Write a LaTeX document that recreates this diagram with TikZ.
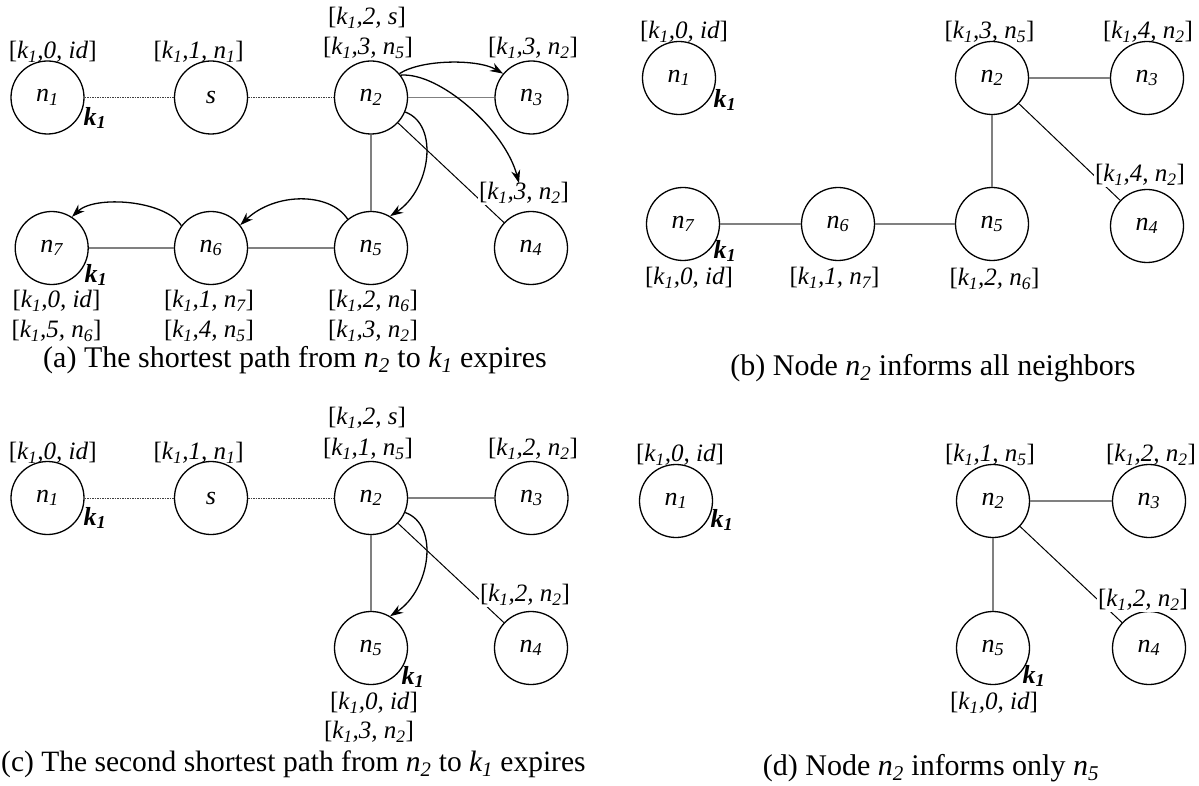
\documentclass[tikz,border=0pt]{standalone}
\usepackage{fontspec}
\setmainfont{Liberation Serif}
\usetikzlibrary{arrows.meta}
\newcommand{\nodefont}{\fontsize{26}{30}\selectfont\itshape}
\newcommand{\labfont}{\fontsize{25}{29}\selectfont}
\newcommand{\capfont}{\fontsize{30}{35}\selectfont}
\newcommand{\kfont}{\fontsize{26}{30}\selectfont\bfseries\itshape}
\newcommand{\nsub}[1]{n\textsubscript{#1}}
\newcommand{\tri}[2]{[\textit{k\textsubscript{1},#1, #2}]}
\tikzset{
  vert/.style={circle, draw, line width=1.3pt, minimum size=73pt, inner sep=0pt, font=\nodefont},
  lab/.style={font=\labfont, inner sep=1pt},
  labw/.style={lab, fill=white},
  kl/.style={font=\kfont, inner sep=0pt},
  captext/.style={font=\capfont, inner sep=0pt},
  edge/.style={draw=black!50, line width=1.5pt},
  dotl/.style={draw=black!75, line width=1pt, dash pattern=on 1.5pt off 1pt},
  thinl/.style={draw=black, line width=1pt},
  arr/.style={draw=black, line width=1.3pt, -{Stealth[length=13pt,width=9pt]}}
}
\begin{document}
\begin{tikzpicture}[x=1pt,y=-1pt]
\useasboundingbox (0,0) rectangle (1199,786);
% ---------------- (a)
\node[vert] (a1) at (47.5,97.5) {\nsub{1}};
\node[vert] (as) at (211,97.5) {s};
\node[vert] (a2) at (371,97.5) {\nsub{2}};
\node[vert] (a3) at (531.5,97.5) {\nsub{3}};
\node[vert] (a7) at (51.7,248) {\nsub{7}};
\node[vert] (a6) at (211,248) {\nsub{6}};
\node[vert] (a5) at (371,248) {\nsub{5}};
\node[vert] (a4) at (531,248) {\nsub{4}};
\node[lab] (a1l) at (52.7,52) {\tri{0}{id}};
\node[lab] (asl) at (198.6,52) {\tri{1}{\nsub{1}}};
\node[lab] (a2la) at (367,18) {\tri{2}{s}};
\node[lab] (a2lb) at (368,48) {\tri{3}{\nsub{5}}};
\node[lab] (a3l) at (533,48) {\tri{3}{\nsub{2}}};
\node[lab] (a7la) at (56.5,301) {\tri{0}{id}};
\node[lab] (a7lb) at (56.5,331) {\tri{5}{\nsub{6}}};
\node[lab] (a6la) at (209,301) {\tri{1}{\nsub{7}}};
\node[lab] (a6lb) at (209,331) {\tri{4}{\nsub{5}}};
\node[lab] (a5la) at (373,301) {\tri{2}{\nsub{6}}};
\node[lab] (a5lb) at (373,331) {\tri{3}{\nsub{2}}};
\node[kl] (a1k) at (95,118) {k\textsubscript{1}};
\node[kl] (a7k) at (96,275) {k\textsubscript{1}};
\draw[dotl] (a1) -- (as);
\draw[dotl] (as) -- (a2);
\draw[edge] (a2) -- (a3);
\draw[edge] (a2) -- (a5);
\draw[edge] (a7) -- (a6);
\draw[edge] (a6) -- (a5);
\draw[thinl] (a2) -- (a4);
\node[labw] (a4l) at (524,193) {\tri{3}{\nsub{2}}};
\draw[arr] (a2.40) .. controls (422,59) and (478,59) .. (a3.140);
\draw[arr] (a2.37) .. controls (440,72) and (505,130) .. ([xshift=-5pt,yshift=-2pt]a4l.north);
\draw[arr] (a2.-23) .. controls (440,125) and (430,190) .. (a5.59);
\draw[arr] (a5.129) .. controls (330,192) and (275,192) .. (a6.38);
\draw[arr] (a6.143) .. controls (165,200) and (95,195) .. (a7.57);
\node[captext] (capa) at (295,360) {(a) The shortest path from \textit{\nsub{2}} to \textit{k\textsubscript{1}} expires};
% ---------------- (b)
\node[vert] (b1) at (679,78) {\nsub{1}};
\node[vert] (b2) at (992,78) {\nsub{2}};
\node[vert] (b3) at (1147,78) {\nsub{3}};
\node[vert] (b7) at (683,224) {\nsub{7}};
\node[vert] (b6) at (838,224) {\nsub{6}};
\node[vert] (b5) at (992,224) {\nsub{5}};
\node[vert] (b4) at (1147,226) {\nsub{4}};
\node[lab] (b1l) at (684,32) {\tri{0}{id}};
\node[lab] (b2l) at (989.5,32) {\tri{3}{\nsub{5}}};
\node[lab] (b3l) at (1148,32) {\tri{4}{\nsub{2}}};
\node[lab] (b7l) at (689,278) {\tri{0}{id}};
\node[lab] (b6l) at (834.5,278) {\tri{1}{\nsub{7}}};
\node[lab] (b5l) at (994.5,279) {\tri{2}{\nsub{6}}};
\node[kl] (b1k) at (725,100) {k\textsubscript{1}};
\node[kl] (b7k) at (725,251) {k\textsubscript{1}};
\draw[edge] (b2) -- (b3);
\draw[edge] (b2) -- (b5);
\draw[edge] (b7) -- (b6);
\draw[edge] (b6) -- (b5);
\draw[thinl] (b2) -- (b4);
\node[labw] (b4l) at (1140,175) {\tri{4}{\nsub{2}}};
\node[captext] (capb) at (933,368) {(b) Node \textit{\nsub{2}} informs all neighbors};
% ---------------- (c)
\node[vert] (c1) at (47.5,498) {\nsub{1}};
\node[vert] (cs) at (211,498) {s};
\node[vert] (c2) at (371,498) {\nsub{2}};
\node[vert] (c3) at (531.5,498) {\nsub{3}};
\node[vert] (c5) at (371,648) {\nsub{5}};
\node[vert] (c4) at (531,648) {\nsub{4}};
\node[lab] (c1l) at (52.7,453) {\tri{0}{id}};
\node[lab] (csl) at (198.6,453) {\tri{1}{\nsub{1}}};
\node[lab] (c2la) at (367,418) {\tri{2}{s}};
\node[lab] (c2lb) at (368,449) {\tri{1}{\nsub{5}}};
\node[lab] (c3l) at (533,449) {\tri{2}{\nsub{2}}};
\node[lab] (c5la) at (374,703) {\tri{0}{id}};
\node[lab] (c5lb) at (369,732) {\tri{3}{\nsub{2}}};
\node[kl] (c1k) at (95,518) {k\textsubscript{1}};
\node[kl] (c5k) at (413,677) {k\textsubscript{1}};
\draw[dotl] (c1) -- (cs);
\draw[dotl] (cs) -- (c2);
\draw[edge] (c2) -- (c3);
\draw[edge] (c2) -- (c5);
\draw[thinl] (c2) -- (c4);
\node[labw] (c4l) at (525,595) {\tri{2}{\nsub{2}}};
\draw[arr] (c2.-23) .. controls (440,525) and (430,590) .. (c5.59);
\node[captext, anchor=west, font=\fontsize{29.5}{34}\selectfont] (capc) at (1,764) {(c) The second shortest path from \textit{\nsub{2}} to \textit{k\textsubscript{1}} expires};
% ---------------- (d)
\node[vert] (d1) at (676,501) {\nsub{1}};
\node[vert] (d2) at (993,501) {\nsub{2}};
\node[vert] (d3) at (1149,501) {\nsub{3}};
\node[vert] (d5) at (993,648) {\nsub{5}};
\node[vert] (d4) at (1149,648) {\nsub{4}};
\node[lab] (d1l) at (680,455) {\tri{0}{id}};
\node[lab] (d2l) at (990,455) {\tri{1}{\nsub{5}}};
\node[lab] (d3l) at (1151,455) {\tri{2}{\nsub{2}}};
\node[lab] (d5l) at (994,703) {\tri{0}{id}};
\node[kl] (d1k) at (722,520) {k\textsubscript{1}};
\node[kl] (d5k) at (1034,676) {k\textsubscript{1}};
\draw[edge] (d2) -- (d3);
\draw[edge] (d2) -- (d5);
\draw[thinl] (d2) -- (d4);
\node[labw] (d4l) at (1143,600) {\tri{2}{\nsub{2}}};
\node[captext] (capd) at (931,768) {(d) Node \textit{\nsub{2}} informs only \textit{\nsub{5}}};
\end{tikzpicture}
\end{document}
